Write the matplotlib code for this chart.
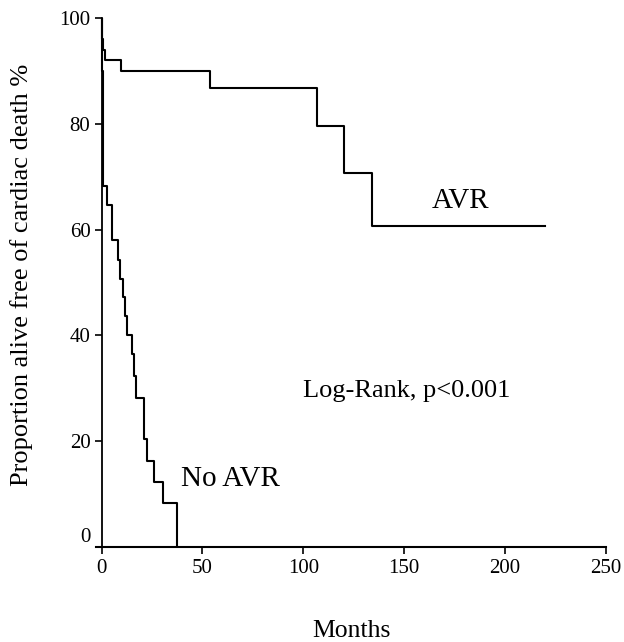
import matplotlib
matplotlib.use('Agg')
import matplotlib.pyplot as plt
import matplotlib.transforms as mtransforms

plt.rcParams['font.family'] = ['Liberation Serif', 'DejaVu Serif']

# Kaplan-Meier steps (months, % free of cardiac death)
avr_months = [0, 0.3, 0.8, 1.5, 9.5, 54, 107, 120, 134, 220]
avr_surv = [100, 96, 94, 92, 90, 86.7, 79.5, 70.7, 60.7, 60.7]

noavr_months = [0, 0.2, 0.4, 0.6, 0.8, 2.5, 5, 8.3, 9.4, 10.7, 11.5, 12.7,
                15.1, 16.1, 17.3, 21, 22.3, 26, 30.5, 37.3]
noavr_surv = [100, 96, 90, 84, 68.2, 64.7, 58.1, 54.3, 50.6, 47.2, 43.6, 40,
              36.4, 32.3, 28.2, 20.4, 16.3, 12.2, 8.4, 4.3]

xticks = [0, 50, 100, 150, 200, 250]
yticks = [0, 20, 40, 60, 80, 100]

fig = plt.figure(figsize=(6.24, 6.42), dpi=100)
ax = fig.add_axes([0.1546, 0.148, 0.8165, 0.824])

ax.step(avr_months, avr_surv, where='post', color='black', lw=1.5)
ax.step(noavr_months + [noavr_months[-1]], noavr_surv + [0], where='post',
        color='black', lw=1.5)

ax.set_xlim(-2.5, 250)
ax.set_ylim(0, 100)
ax.spines['top'].set_visible(False)
ax.spines['right'].set_visible(False)
ax.spines['left'].set_position(('data', 0))
ax.spines['left'].set_linewidth(1.3)
ax.spines['bottom'].set_linewidth(1.5)
ax.set_xticks(xticks)
ax.set_yticks(yticks)
ax.tick_params(axis='both', labelsize=15, direction='out', length=5, width=1.2)
ax.tick_params(axis='y', pad=3)

# the "0" label on the y axis sits a little above the axis line
lbl0 = ax.get_yticklabels()[0]
lbl0.set_transform(lbl0.get_transform() +
                   mtransforms.ScaledTranslation(0, 12 / 100, fig.dpi_scale_trans))

ax.text(178, 64.1, 'AVR', fontsize=21, ha='center', va='baseline')
ax.text(64, 11.6, 'No AVR', fontsize=21, ha='center', va='baseline')
ax.text(151, 28.3, 'Log-Rank, p<0.001', fontsize=19, ha='center', va='baseline')

fig.text(0.563, 0.008, 'Months', fontsize=18.5, ha='center', va='baseline')
fig.text(0.035, 0.572, 'Proportion alive free of cardiac death %', fontsize=19,
         rotation=90, ha='center', va='center')

fig.savefig('out.png', dpi=100)
